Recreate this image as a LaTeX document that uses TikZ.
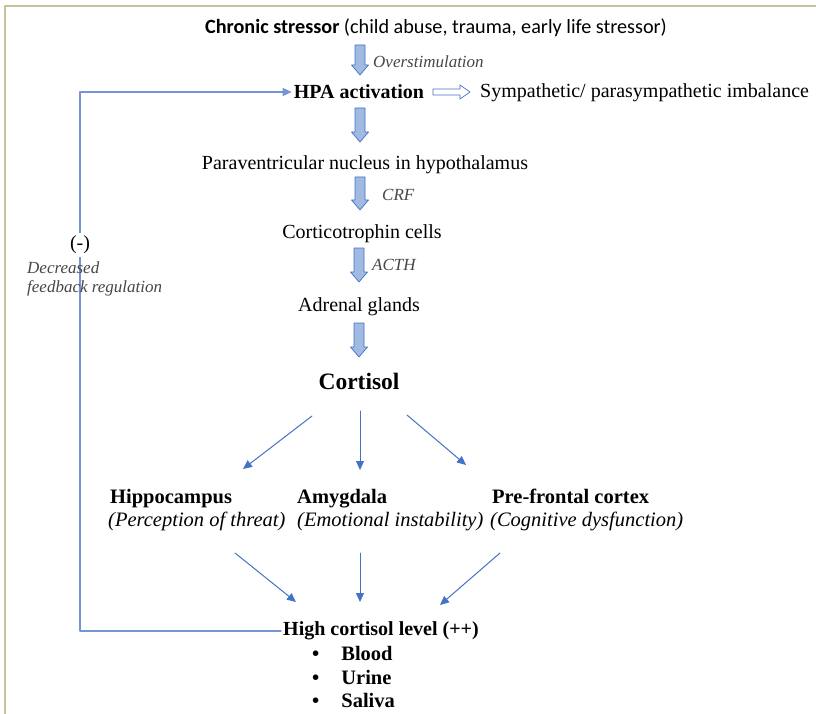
\documentclass[tikz,border=0pt]{standalone}
\usepackage{fontspec}
\setmainfont{Liberation Serif}
\newfontfamily\calibfont{Carlito}
\usetikzlibrary{arrows.meta}

\definecolor{linkblue}{RGB}{68,114,196}
\definecolor{arrowfill}{RGB}{160,186,226}
\definecolor{framecol}{RGB}{201,192,156}
\definecolor{notegray}{RGB}{70,70,70}

\begin{document}
\begin{tikzpicture}[x=1pt,y=-1pt,line cap=round,line join=round,
    txt/.style={font=\fontsize{20}{23}\selectfont,inner sep=2pt},
    bold/.style={txt,font=\bfseries\fontsize{20}{23}\selectfont},
    note/.style={anchor=west,text=notegray,inner sep=1pt,
      font=\itshape\fontsize{17}{19}\selectfont},
    sub/.style={anchor=base west,inner sep=1pt,font=\itshape\fontsize{20.5}{23}\selectfont},
    head/.style={anchor=base west,inner sep=1pt,font=\bfseries\fontsize{20.5}{23}\selectfont},
    link/.style={draw=linkblue,line width=1pt,-{Triangle[length=9pt,width=8pt]}},
    feedback/.style={draw=linkblue!75,line width=1.2pt},
    blockpath/.style={draw=linkblue,line width=.7pt},
    pics/blockdn/.style={code={
      \draw[blockpath,fill=arrowfill] (-5,0) -- (5,0) -- (5,#1-10) -- (8.5,#1-10)
        -- (0,#1) -- (-8.5,#1-10) -- (-5,#1-10) -- cycle;}},
    pics/blockrt/.style={code={
      \draw[blockpath,fill=white] (0,-3) -- (#1-10,-3) -- (#1-10,-7) -- (#1,0)
        -- (#1-10,7) -- (#1-10,3) -- (0,3) -- cycle;}}]
    \useasboundingbox (0,0) rectangle (816,714);

    % The frame round the figure, open at the right and at the bottom.
    \draw[framecol,line width=2pt] (5,714) -- (5,6) -- (816,6);

    % The main chain, from the stressor down to cortisol.
    \node[font=\calibfont\fontsize{20.2}{23}\selectfont] (stress) at (436,28)
      {\textbf{Chronic stressor} (child abuse, trauma, early life stressor)};
    \node[bold] (hpa) at (359,92) {HPA activation};
    \node[txt,anchor=west] (symp) at (478,93) {Sympathetic/ parasympathetic imbalance};
    \node[txt] (pvn) at (365,165) {Paraventricular nucleus in hypothalamus};
    \node[txt] (cc) at (362,234) {Corticotrophin cells};
    \node[txt] (adr) at (359,307) {Adrenal glands};
    \node[txt,font=\bfseries\fontsize{23.5}{27}\selectfont] (cort) at (359,381) {Cortisol};

    % The block arrows between the steps.
    \pic at (360,45) {blockdn=30};
    \pic at (360,108) {blockdn=34};
    \pic at (360,177) {blockdn=33};
    \pic at (359,248) {blockdn=34};
    \pic at (359,323) {blockdn=34};
    \pic at (433,92) {blockrt=37};

    \node[note] (over) at (372,62) {Overstimulation};
    \node[note] (crf) at (381,195) {CRF};
    \node[note] (acth) at (371,265) {ACTH};

    % The three brain regions.
    \node[head] (hip) at (109,503.5) {Hippocampus};
    \node[sub] (hipsub) at (107,526.5) {(Perception of threat)};
    \node[head] (amy) at (296,503.5) {Amygdala};
    \node[sub] (amysub) at (296,526.5) {(Emotional instability)};
    \node[head] (pfc) at (491,503.5) {Pre-frontal cortex};
    \node[sub] (pfcsub) at (489,526.5) {(Cognitive dysfunction)};

    % The outcome and where it is measured.
    \node[bold] (high) at (381,631) {High cortisol level (++)};
    \node[anchor=north west,inner sep=0pt,font=\bfseries\fontsize{20.5}{23.5}\selectfont]
      (sites) at (312,644)
      {\begin{tabular}{@{}l@{\hspace{22pt}}l@{}}
        \textbullet & Blood\\
        \textbullet & Urine\\
        \textbullet & Saliva
      \end{tabular}};

    % Cortisol acts on the three regions.
    \coordinate (cl) at (312,416);  \coordinate (hipin) at (243,469);
    \coordinate (cm) at (360,411);  \coordinate (amyin) at (360,470);
    \coordinate (cr) at (407,415);  \coordinate (pfcin) at (466,465);
    \draw[link] (cl) -- (hipin);
    \draw[link] (cm) -- (amyin);
    \draw[link] (cr) -- (pfcin);

    % The regions raise the cortisol level.
    \coordinate (hipout) at (235,553);  \coordinate (hl) at (296,602);
    \coordinate (amyout) at (360,553);  \coordinate (hm) at (360,602);
    \coordinate (pfcout) at (500,553);  \coordinate (hr) at (440,605);
    \draw[link] (hipout) -- (hl);
    \draw[link] (amyout) -- (hm);
    \draw[link] (pfcout) -- (hr);

    % The feedback loop back to the HPA axis.
    \coordinate (fbx) at (80,0);
    \draw[feedback,-{Triangle[length=9pt,width=8pt]}]
      (high.west) -- (high.west -| fbx) |- (hpa.west);
    \node[fill=white,inner sep=3pt,font=\fontsize{20}{22}\selectfont] (minus) at (80,245) {(-)};
    \node[anchor=north west,align=left,inner sep=0pt,text=notegray,
      font=\itshape\fontsize{17}{18.5}\selectfont] (dec) at (27,262)
      {Decreased\\feedback regulation};
  \end{tikzpicture}
\end{document}
